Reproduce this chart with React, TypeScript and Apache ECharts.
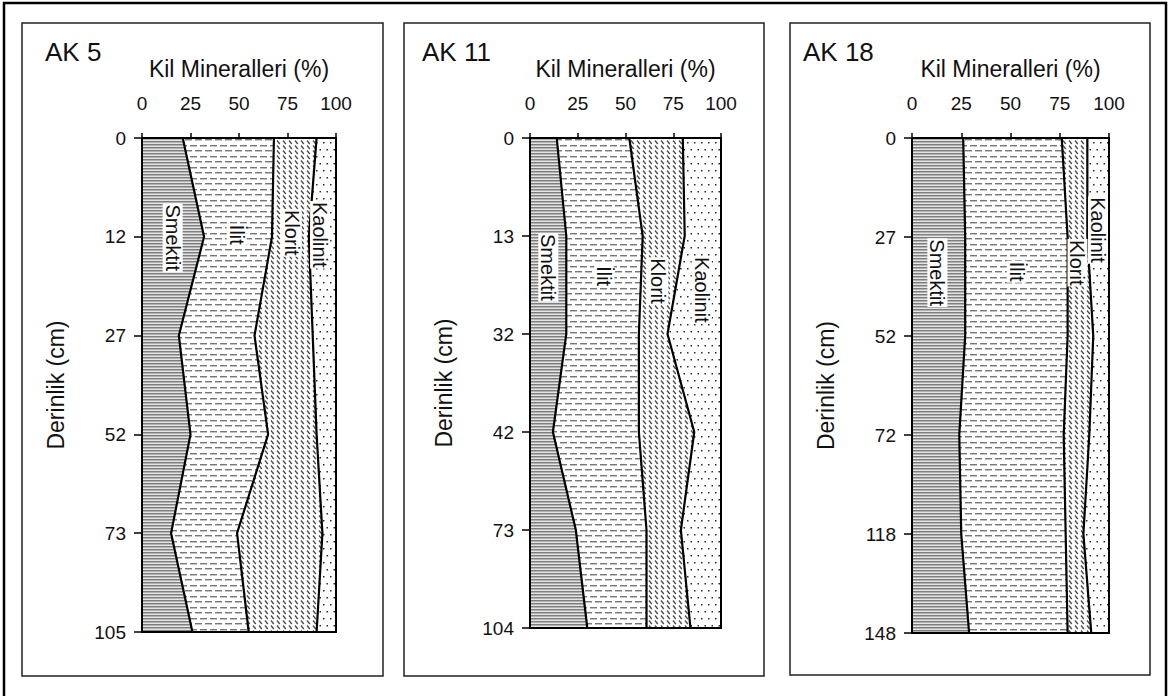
import React, { useEffect, useRef } from 'react';
import * as echarts from 'echarts';

const FONT = '"Liberation Sans", Arial, Helvetica, sans-serif';

const minerals = ['Smektit', 'İlit', 'Klorit', 'Kaolinit'];
const xTicks = [0, 25, 50, 75, 100];
const axisTitle = 'Kil Mineralleri (%)';
const depthTitle = 'Derinlik (cm)';

// AK 5
const ak5Depths = [0, 12, 27, 52, 73, 105];
const ak5Smektit = [21, 32, 19, 25, 15, 26];
const ak5Ilit = [47, 35, 39, 40, 34, 29];
const ak5Klorit = [22, 19, 30, 25, 44, 35];
const ak5Kaolinit = [10, 14, 12, 10, 7, 10];

// AK 11
const ak11Depths = [0, 13, 32, 42, 73, 104];
const ak11Smektit = [14, 19, 19, 12, 24, 30];
const ak11Ilit = [38, 40, 38, 45, 37, 31];
const ak11Klorit = [28, 22, 15, 29, 18, 23];
const ak11Kaolinit = [20, 19, 28, 14, 21, 16];

// AK 18
const ak18Depths = [0, 27, 52, 72, 118, 148];
const ak18Smektit = [26, 27, 27, 24, 25, 29];
const ak18Ilit = [50, 52, 52, 53, 53, 50];
const ak18Klorit = [13, 10, 13, 13, 9, 12];
const ak18Kaolinit = [11, 11, 8, 10, 13, 9];

// label anchor positions (percent, depth index) for each mineral name
const ak5LabelPos = [[15.8, 1.01], [48.8, 0.98], [77.2, 0.96], [91.8, 0.98]];
const ak11LabelPos = [[9.6, 1.32], [38.9, 1.41], [67.2, 1.46], [89.9, 1.55]];
const ak18LabelPos = [[12.9, 1.36], [53.2, 1.35], [84.0, 1.26], [94.4, 0.93]];

function makePattern(w: number, h: number, draw: (ctx: CanvasRenderingContext2D) => void) {
  const c = document.createElement('canvas');
  c.width = w;
  c.height = h;
  const ctx = c.getContext('2d') as CanvasRenderingContext2D;
  ctx.fillStyle = '#ffffff';
  ctx.fillRect(0, 0, w, h);
  draw(ctx);
  return { image: c, repeat: 'repeat', imageWidth: w, imageHeight: h } as any;
}

export default function App() {
  const ref = useRef<HTMLDivElement>(null);
  useEffect(() => {
    if (!ref.current) return;
    const chart = echarts.init(ref.current, null, { renderer: 'svg' });

    const patSmektit = makePattern(4, 3, (ctx) => {
      ctx.fillStyle = '#e4e4e4';
      ctx.fillRect(0, 0, 4, 3);
      ctx.fillStyle = '#7e7e7e';
      ctx.fillRect(0, 0, 4, 1);
      ctx.fillStyle = '#b2b2b2';
      ctx.fillRect(0, 1, 4, 1);
    });
    const patIlit = makePattern(10, 11, (ctx) => {
      ctx.fillStyle = '#787878';
      ctx.fillRect(0, 2, 7, 1);
      ctx.fillRect(5, 7, 5, 1);
      ctx.fillRect(0, 7, 2, 1);
      ctx.fillStyle = '#c4c4c4';
      ctx.fillRect(0, 3, 7, 1);
      ctx.fillRect(5, 8, 5, 1);
      ctx.fillRect(0, 8, 2, 1);
    });
    const patKlorit = makePattern(6, 5, (ctx) => {
      ctx.strokeStyle = '#4a4a4a';
      ctx.lineWidth = 1.3;
      ctx.beginPath();
      ctx.moveTo(1, 0.5);
      ctx.lineTo(3.8, 4);
      ctx.stroke();
    });
    const patKaolinit = makePattern(7, 14, (ctx) => {
      ctx.fillStyle = '#2a2a2a';
      ctx.fillRect(1, 2, 1.5, 1.5);
      ctx.fillRect(4.5, 9, 1.5, 1.5);
    });
    const patterns = [patSmektit, patIlit, patKlorit, patKaolinit];

    const panels = [
      {
        title: 'AK 5',
        depths: ak5Depths,
        values: [ak5Smektit, ak5Ilit, ak5Klorit, ak5Kaolinit],
        labelPos: ak5LabelPos,
        grid: { left: 142, top: 138, width: 194, height: 494 },
        box: { x: 22, y: 23, width: 361, height: 653 },
        titleX: 45,
      },
      {
        title: 'AK 11',
        depths: ak11Depths,
        values: [ak11Smektit, ak11Ilit, ak11Klorit, ak11Kaolinit],
        labelPos: ak11LabelPos,
        grid: { left: 530, top: 138, width: 191, height: 490 },
        box: { x: 404, y: 23, width: 360, height: 653 },
        titleX: 422,
      },
      {
        title: 'AK 18',
        depths: ak18Depths,
        values: [ak18Smektit, ak18Ilit, ak18Klorit, ak18Kaolinit],
        labelPos: ak18LabelPos,
        grid: { left: 912, top: 138, width: 197, height: 495 },
        box: { x: 790, y: 23, width: 360, height: 652 },
        titleX: 803,
      },
    ];

    const makeRender = (p: any) => (params: any, api: any) => {
      const n = p.depths.length;
      const cum: number[][] = [new Array(n).fill(0)];
      for (let k = 0; k < p.values.length; k++) {
        cum.push(p.values[k].map((v: number, i: number) => cum[k][i] + v));
      }
      const children: any[] = [];
      for (let k = 0; k < p.values.length; k++) {
        const pts: number[][] = [];
        for (let i = 0; i < n; i++) pts.push(api.coord([cum[k + 1][i], i]));
        for (let i = n - 1; i >= 0; i--) pts.push(api.coord([cum[k][i], i]));
        children.push({
          type: 'polygon',
          shape: { points: pts },
          style: { fill: patterns[k], stroke: 'none' },
        });
      }
      for (let k = 1; k < p.values.length; k++) {
        const pts: number[][] = [];
        for (let i = 0; i < n; i++) pts.push(api.coord([cum[k][i], i]));
        children.push({
          type: 'polyline',
          shape: { points: pts },
          style: { fill: 'none', stroke: '#000', lineWidth: 2.2 },
        });
      }
      const tl = api.coord([0, 0]);
      const br = api.coord([100, n - 1]);
      children.push({
        type: 'rect',
        shape: { x: tl[0], y: tl[1], width: br[0] - tl[0], height: br[1] - tl[1] },
        style: { fill: 'none', stroke: '#000', lineWidth: 2 },
      });
      for (let k = 0; k < minerals.length; k++) {
        const c = api.coord(p.labelPos[k]);
        children.push({
          type: 'text',
          x: c[0],
          y: c[1],
          rotation: -Math.PI / 2,
          style: {
            x: 0,
            y: 0,
            text: minerals[k],
            fill: '#111',
            fontSize: 20,
            fontFamily: FONT,
            align: 'center',
            verticalAlign: 'middle',
            backgroundColor: '#ffffff',
            padding: [0, 1, 0, 1],
          },
        });
      }
      return { type: 'group', children };
    };

    const graphic: any[] = [
      {
        type: 'rect',
        shape: { x: 4, y: 3, width: 1162, height: 700 },
        style: { fill: 'none', stroke: '#000', lineWidth: 2.5 },
        z: 10,
      },
    ];
    panels.forEach((p) => {
      graphic.push({
        type: 'rect',
        shape: p.box,
        style: { fill: 'none', stroke: '#222', lineWidth: 1.5 },
        z: 10,
      });
      graphic.push({
        type: 'text',
        x: p.titleX,
        y: 52,
        style: {
          text: p.title,
          fill: '#111',
          fontSize: 26,
          fontFamily: FONT,
          align: 'left',
          verticalAlign: 'middle',
        },
        z: 10,
      });
    });

    const option: any = {
      animation: false,
      backgroundColor: '#ffffff',
      grid: panels.map((p) => ({ ...p.grid, containLabel: false, show: false })),
      xAxis: panels.map((p, i) => ({
        type: 'value',
        gridIndex: i,
        position: 'top',
        min: xTicks[0],
        max: xTicks[xTicks.length - 1],
        interval: 25,
        name: axisTitle,
        nameLocation: 'middle',
        nameGap: 58,
        nameTextStyle: { fontSize: 23, color: '#111', fontFamily: FONT },
        axisLine: { show: true, lineStyle: { color: '#000', width: 2 } },
        axisTick: { show: true, length: 5, lineStyle: { color: '#000', width: 1.5 } },
        axisLabel: { fontSize: 19, color: '#111', margin: 25, fontFamily: FONT },
        splitLine: { show: false },
      })),
      yAxis: panels.map((p, i) => ({
        type: 'value',
        gridIndex: i,
        inverse: true,
        min: 0,
        max: p.depths.length - 1,
        interval: 1,
        name: depthTitle,
        nameLocation: 'middle',
        nameGap: 75,
        nameRotate: 90,
        nameTextStyle: { fontSize: 23, color: '#111', fontFamily: FONT },
        axisLine: { show: true, lineStyle: { color: '#000', width: 2 } },
        axisTick: { show: true, length: 8, lineStyle: { color: '#000', width: 1.5 } },
        axisLabel: {
          fontSize: 19,
          color: '#111',
          margin: 16,
          fontFamily: FONT,
          formatter: (v: number) => String(p.depths[Math.round(v)]),
        },
        splitLine: { show: false },
      })),
      series: panels.map((p, i) => ({
        type: 'custom',
        xAxisIndex: i,
        yAxisIndex: i,
        silent: true,
        clip: false,
        data: [[0, 0]],
        renderItem: makeRender(p),
      })),
      graphic,
    };
    chart.setOption(option);
    return () => chart.dispose();
  }, []);
  return (
    <div
      ref={ref}
      style={{ position: 'fixed', left: 0, top: 0, width: 1169, height: 696, background: '#fff' }}
    />
  );
}
